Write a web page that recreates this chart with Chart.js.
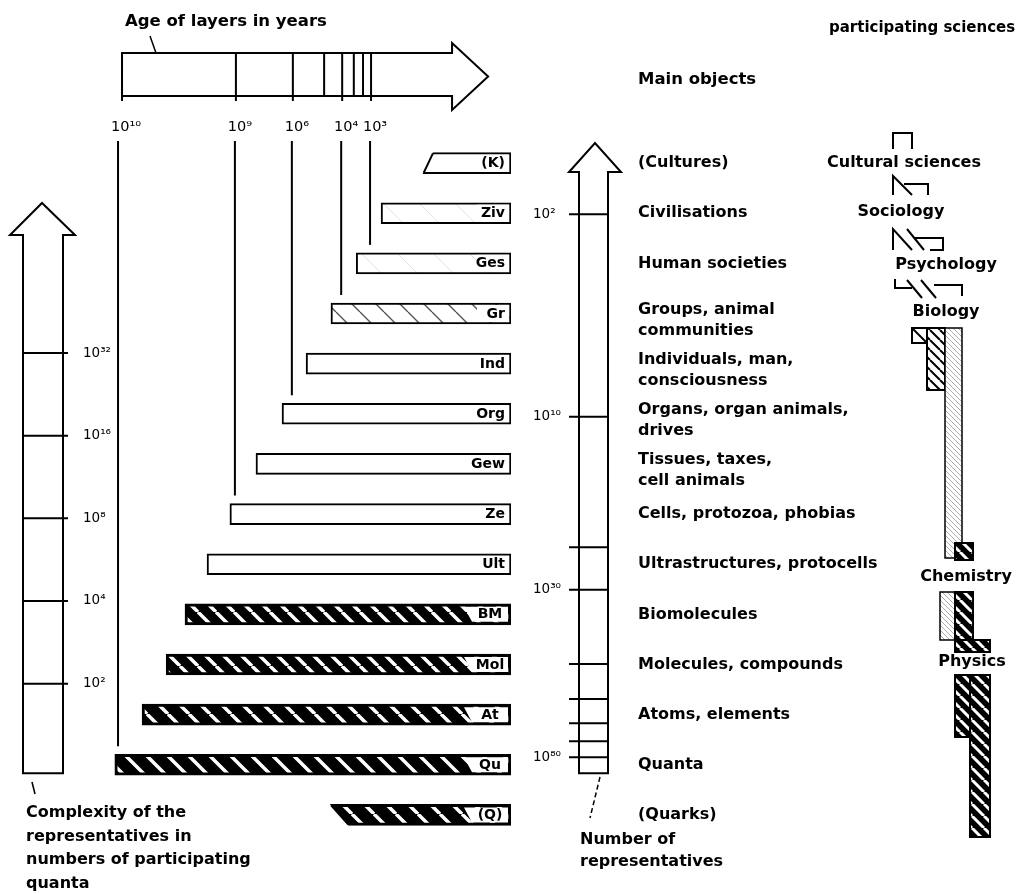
<!DOCTYPE html>
<html>
<head>
<meta charset="utf-8">
<title>Age of layers</title>
<script src="https://cdn.jsdelivr.net/npm/chart.js@4.4.1/dist/chart.umd.min.js"></script>
<style>
  html, body { margin: 0; padding: 0; background: #fff; }
  canvas { display: block; }
</style>
</head>
<body>
<canvas id="chart" width="1018" height="894"></canvas>
<script>
// layers from the youngest (top) to the oldest (bottom)
const layers = ['(K)', 'Ziv', 'Ges', 'Gr', 'Ind', 'Org', 'Gew', 'Ze', 'Ult', 'BM', 'Mol', 'At', 'Qu', '(Q)'];
const mainObjects = [
  ['(Cultures)'], ['Civilisations'], ['Human societies'],
  ['Groups, animal', 'communities'], ['Individuals, man,', 'consciousness'],
  ['Organs, organ animals,', 'drives'], ['Tissues, taxes,', 'cell animals'],
  ['Cells, protozoa, phobias'], ['Ultrastructures, protocells'], ['Biomolecules'],
  ['Molecules, compounds'], ['Atoms, elements'], ['Quanta'], ['(Quarks)']
];
// where each layer begins on the age band (0 = oldest edge, 100 = present)
const layerStart = [78.0, 67.6, 61.4, 55.1, 48.9, 42.9, 36.4, 29.9, 24.2, 18.7, 14.0, 8.0, 1.2, 54.9];
const layerEnd = [100, 100, 100, 100, 100, 100, 100, 100, 100, 100, 100, 100, 100, 100];

// age band ticks
const ageTickLabels = ['10¹⁰', '10⁹', '10⁶', '10⁴', '10³'];
const ageTickPos = [3.0, 31.4, 45.6, 57.9, 65.1];
const ageTickLayer = [12, 7, 5, 3, 2];
const ageMinorPos = [53.4, 60.8, 63.1];

// complexity (quanta per representative)
const complexityLabels = ['10²', '10⁴', '10⁸', '10¹⁶', '10³²'];
const complexityExp = [2, 4, 8, 16, 32];

// number of representatives, placed against the layer rows
const countLabels = ['10²', '10¹⁰', '10³⁰', '10⁸⁰'];
const countRows = [1.02, 5.06, 8.51, 11.85];
const countMinorRows = [7.66, 9.99, 10.69, 11.17, 11.53];

const sciences = ['Cultural sciences', 'Sociology', 'Psychology', 'Biology', 'Chemistry', 'Physics'];

// styles
const layerFill = ['plain', 'faint', 'faint', 'hatch', 'plain', 'plain', 'plain', 'plain', 'plain',
  'dark', 'dark', 'dark', 'dark', 'dark'];
const stripeGap = [0, 0, 0, 0, 0, 0, 0, 0, 0, 18, 18, 21, 21, 22];
const slant = [10, 0, 0, 0, 0, 0, 0, 0, 0, 0, 0, 0, 0, -18];
const sciencePos = [[904, 163], [901, 212], [946, 265], [946, 312], [966, 577], [972, 662]];
const FONT = '"DejaVu Sans", sans-serif';

const ctx = document.getElementById('chart').getContext('2d');

function stripes(bg, fg, p, lw) {
  const c = document.createElement('canvas');
  c.width = p; c.height = p;
  const g = c.getContext('2d');
  g.fillStyle = bg; g.fillRect(0, 0, p, p);
  g.strokeStyle = fg; g.lineWidth = lw;
  g.beginPath();
  [-p, 0, p].forEach(o => { g.moveTo(o, 0); g.lineTo(o + p, p); });
  g.stroke();
  return ctx.createPattern(c, 'repeat');
}

const fills = layerFill.map((f, i) => {
  if (f === 'dark') return stripes('#000', '#fff', stripeGap[i], 3.5);
  if (f === 'hatch') return stripes('#fff', '#555', 24, 1.4);
  if (f === 'faint') return stripes('#fff', '#e4e4e4', 36, 1);
  return '#fff';
});
const darkPat = stripes('#000', '#fff', 12, 3);
const hatchPat = stripes('#fff', '#000', 10, 2);
const finePat = stripes('#fff', '#999', 5, 0.8);

function text(c, s, x, y, size, weight, align) {
  c.font = weight + ' ' + size + 'px ' + FONT;
  c.textAlign = align || 'left';
  c.textBaseline = 'middle';
  c.fillStyle = '#000';
  c.fillText(s, x, y);
}

function path(c, pts, o) {
  o = o || {};
  c.beginPath();
  pts.forEach((p, k) => k ? c.lineTo(p[0], p[1]) : c.moveTo(p[0], p[1]));
  if (o.close) c.closePath();
  if (o.fill) { c.fillStyle = o.fill; c.fill(); }
  if (o.stroke !== false) { c.lineWidth = o.lw || 2; c.strokeStyle = '#000'; c.stroke(); }
}

function rect(x, y, w, h) {
  return [[x, y], [x + w, y], [x + w, y + h], [x, y + h]];
}

const decor = {
  id: 'decor',
  afterDatasetsDraw(chart) {
    const c = chart.ctx;
    const X = v => chart.scales.x.getPixelForValue(v);
    const Y = v => chart.scales.y.getPixelForValue(v);
    const YC = v => chart.scales.yc.getPixelForValue(v);
    const bars = chart.getDatasetMeta(0).data;
    c.save();

    // bar ends and labels
    bars.forEach((b, i) => {
      const T = b.y - b.height / 2, B = b.y + b.height / 2, L = b.base, R = b.x;
      const s = slant[i];
      if (s > 0) {
        path(c, [[L - 3, T - 3], [L + s, T - 3], [L + s, T], [L, B], [L - 3, B]], { close: true, fill: '#fff', stroke: false });
        path(c, [[L + s, T + 1], [L + 1, B - 1]]);
      } else if (s < 0) {
        const a = -s;
        path(c, [[L - 3, B + 3], [L + a, B + 3], [L + a, B], [L, T], [L - 3, T]], { close: true, fill: '#fff', stroke: false });
        path(c, [[L + 1, T + 1], [L + a, B - 1]]);
      }
      if (layerFill[i] === 'dark') {
        path(c, [[R - 47, T + 3], [R - 3, T + 3], [R - 3, B - 3], [R - 39, B - 3]], { close: true, fill: '#fff', stroke: false });
        text(c, layers[i], R - 21, b.y + 0.5, 14, 'bold', 'center');
      } else {
        if (layerFill[i] !== 'plain') path(c, rect(R - 34, T + 2, 32, B - T - 4), { close: true, fill: '#fff', stroke: false });
        text(c, layers[i], R - 6, b.y + 0.5, 14, 'bold', 'right');
      }
    });

    // age band arrow
    const ax0 = X(ageTickPos[0]), ax1 = X(85.3), axT = X(94.3);
    path(c, [[ax0, 53], [ax1, 53], [ax1, 43], [axT, 76.5], [ax1, 110], [ax1, 96], [ax0, 96]], { close: true, fill: '#fff' });
    ageMinorPos.forEach(v => path(c, [[X(v), 53], [X(v), 96]]));
    ageTickPos.forEach((v, k) => {
      const x = X(v);
      path(c, [[x, 53], [x, 101]]);
      text(c, ageTickLabels[k], x + 4, 127, 14.5, 'normal', 'center');
      const b = bars[ageTickLayer[k]];
      path(c, [[x - (k === 0 ? 4 : 1), 141], [x - (k === 0 ? 4 : 1), b.y - b.height / 2 - 8]]);
    });
    text(c, 'Age of layers in years', 125, 22, 16.5, 'bold');
    path(c, [[150, 36], [156, 53]], { lw: 1.5 });

    // complexity arrow
    const bot = Y(12.17);
    path(c, [[23, bot], [23, 235], [10, 235], [42, 203], [75, 235], [63, 235], [63, bot]], { close: true, fill: '#fff' });
    complexityExp.forEach((e, k) => {
      const y = YC(Math.log2(e));
      path(c, [[23, y], [68, y]]);
      text(c, complexityLabels[k], 83, y, 13.5, 'normal');
    });
    path(c, [[32, 782], [35, 794]], { lw: 1.5 });
    ['Complexity of the', 'representatives in', 'numbers of participating', 'quanta']
      .forEach((s, k) => text(c, s, 26, 813 + k * 23.5, 16, 'bold'));

    // number of representatives arrow
    path(c, [[579, bot], [579, 172], [569, 172], [595, 143], [621, 172], [608, 172], [608, bot]], { close: true, fill: '#fff' });
    countRows.forEach((r, k) => {
      const y = Y(r);
      path(c, [[569, y], [608, y]]);
      text(c, countLabels[k], 533, y, 13.5, 'normal');
    });
    countMinorRows.forEach(r => path(c, [[569, Y(r)], [608, Y(r)]]));
    c.setLineDash([5, 3]);
    path(c, [[600, 777], [590, 818]], { lw: 1.5 });
    c.setLineDash([]);
    text(c, 'Number of', 580, 840, 16, 'bold');
    text(c, 'representatives', 580, 862, 16, 'bold');

    // main objects
    text(c, 'Main objects', 638, 80, 16.5, 'bold');
    mainObjects.forEach((lines, i) => {
      const y0 = Y(i) + (lines.length > 1 ? -4 : 0);
      lines.forEach((s, k) => text(c, s, 638, y0 + k * 21, 16, 'bold'));
    });

    // participating sciences
    text(c, 'participating sciences', 829, 28, 15, 'bold');
    sciences.forEach((s, k) => text(c, s, sciencePos[k][0], sciencePos[k][1], 16, 'bold', 'center'));
    path(c, [[893, 149], [893, 133], [912, 133], [912, 149]]);
    path(c, [[893, 195], [893, 176], [912, 195]]);
    path(c, [[904, 184], [928, 184], [928, 195]]);
    path(c, [[893, 250], [893, 229], [912, 250]]);
    path(c, [[907, 229], [924, 250]]);
    path(c, [[915, 238], [943, 238], [943, 250], [930, 250]]);
    path(c, [[895, 279], [895, 288], [912, 288]]);
    path(c, [[907, 280], [922, 298]]);
    path(c, [[921, 280], [936, 298]]);
    path(c, [[934, 285], [962, 285], [962, 296]]);
    path(c, rect(912, 328, 15, 15), { close: true, fill: '#fff' });
    path(c, [[912, 328], [927, 343]]);
    path(c, rect(927, 328, 18, 62), { close: true, fill: hatchPat });
    path(c, rect(945, 328, 17, 230), { close: true, fill: finePat, lw: 1.5 });
    path(c, rect(955, 543, 18, 17), { close: true, fill: darkPat });
    path(c, rect(940, 592, 15, 48), { close: true, fill: finePat, lw: 1.5 });
    path(c, rect(955, 592, 18, 48), { close: true, fill: darkPat });
    path(c, rect(955, 640, 35, 12), { close: true, fill: darkPat });
    path(c, rect(955, 675, 17, 62), { close: true, fill: darkPat });
    path(c, rect(970, 675, 20, 162), { close: true, fill: darkPat });

    c.restore();
  }
};

new Chart(ctx, {
  type: 'bar',
  data: {
    labels: layers,
    datasets: [{
      data: layers.map((l, i) => [layerStart[i], layerEnd[i]]),
      backgroundColor: fills,
      borderColor: '#000',
      borderWidth: layerFill.map(f => f === 'dark' ? 3 : 2),
      borderSkipped: false,
      barThickness: 21,
      xAxisID: 'x',
      yAxisID: 'y'
    }]
  },
  options: {
    indexAxis: 'y',
    responsive: false,
    animation: false,
    devicePixelRatio: 1,
    layout: { padding: { left: 110, right: 507, top: 138, bottom: 54 } },
    plugins: { legend: { display: false }, tooltip: { enabled: false } },
    scales: {
      x: { type: 'linear', min: 0, max: 100, display: false },
      y: { type: 'category', display: false, offset: true },
      yc: { type: 'linear', axis: 'y', min: -0.42, max: 7.13, display: false }
    }
  },
  plugins: [decor]
});
</script>
</body>
</html>
